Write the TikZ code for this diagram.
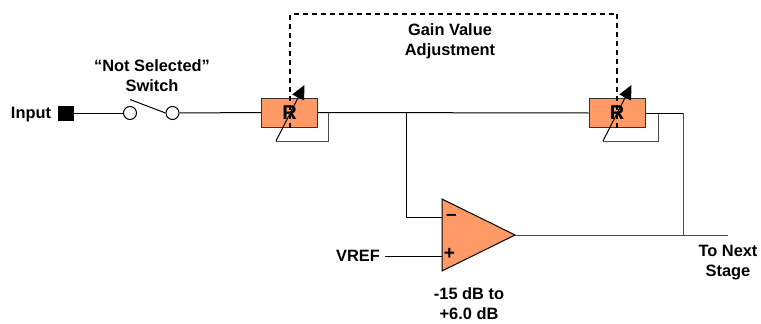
\documentclass[tikz,border=0pt]{standalone}
\usepackage{fontspec}
\setmainfont{Liberation Sans}
\usetikzlibrary{shapes.geometric,arrows.meta}
\definecolor{amp}{HTML}{FF9966}
\tikzset{
  wire/.style={draw=black,line width=1pt},
  thin wire/.style={draw=black!70,line width=1pt},
  dash wire/.style={draw=black,line width=1.2pt,dash pattern=on 5pt off 4pt},
  lab/.style={font=\fontsize{16.4}{17}\selectfont\bfseries,inner sep=0pt,align=center},
  resistor/.style={draw=black!80,fill=amp,line width=1pt,minimum width=56pt,minimum height=29pt,inner sep=0pt},
  rlabel/.style={font=\fontsize{20}{22}\selectfont\bfseries,inner sep=0pt},
  sign/.style={font=\fontsize{19}{20}\selectfont\bfseries,inner sep=0pt},
  contact/.style={circle,draw=black,fill=white,line width=1pt,minimum size=13pt,inner sep=0pt},
  adjust/.style={line width=1pt,-{Triangle[length=14pt,width=13pt]}}
}
\begin{document}
\begin{tikzpicture}[x=1pt,y=-1pt]
\useasboundingbox (0,0) rectangle (761,324);
% input and switch
\node[lab] (input) at (31,114.5) {Input};
\node[draw=black,fill=black,minimum width=15pt,minimum height=14pt,inner sep=0pt] (port) at (66,113) {};
\node[contact] (c1) at (130,113) {};
\node[contact] (c2) at (172.5,113) {};
\coordinate (armend) at (130,99.5);
\node[lab] (swlab) at (152,75.5) {“Not Selected”\\[3pt]Switch};
\draw[wire] (port.east) -- (c1.west);
\draw[wire] (armend) -- (c2.west);
% resistors
\node[resistor] (r1) at (289.5,112.5) {};
\node[resistor] (r2) at (617,113) {};
\draw[wire] (c2.east) -- (r1.west);
\draw[wire] (r1.east) -- (r2.west);
% R labels
\node[rlabel] (rl1) at (r1.center) {R};
\node[rlabel] (rl2) at (r2.center) {R};
% dashed link
\coordinate (d1) at (290,14);
\coordinate (d2) at (617,14);
\draw[dash wire] (r1.south -| d1) -- (d1) -- (d2) -- (r2.south);
\node[lab] (gain) at (450,41) {Gain Value\\[3pt]Adjustment};
% rheostat feedback
\coordinate (a1) at (276,141);
\coordinate (b1) at (328,141);
\coordinate (t1) at (304.5,85);
\coordinate (j1) at (328,112.5);
\draw[thin wire] (j1) -- (b1) -- (a1);
\draw[adjust] (a1) -- (t1);
\coordinate (a2) at (603,141);
\coordinate (b2) at (658,141);
\coordinate (t2) at (631.5,85);
\coordinate (j2) at (658,113);
\draw[thin wire] (j2) -- (b2) -- (a2);
\draw[adjust] (a2) -- (t2);
% op amp
\node[isosceles triangle,isosceles triangle apex angle=52.5,isosceles triangle stretches=true,
  minimum width=72pt,minimum height=73pt,inner sep=0pt,outer sep=0pt,
  draw=black,fill=amp,line width=1pt,anchor=apex] (amp) at (515,235) {};
\coordinate (top) at (406,113);
\coordinate (mid) at (406,217);
\coordinate (minus) at (442,217);
\coordinate (plus) at (442,256);
\coordinate (vend) at (385,256);
\coordinate (out) at (728,235);
\coordinate (fb) at (683,113);
\coordinate (fbd) at (683,235);
\draw[wire] (top) -- (mid) -- (minus);
\draw[wire] (vend) -- (plus);
\draw[thin wire] (amp.apex) -- (out);
\draw[wire] (r2.east) -- (fb);
\draw[thin wire] (fb) -- (fbd);
\node[sign] (ms) at (451.5,217) {–};
\node[sign] (ps) at (449.5,254) {+};
\node[lab] (vref) at (358,255.5) {VREF};
\node[lab] (next) at (728,263) {To Next\\[3pt]Stage};
\node[lab] (gainrange) at (469,303.5) {-15 dB to\\[3pt]+6.0 dB};
\end{tikzpicture}
\end{document}
